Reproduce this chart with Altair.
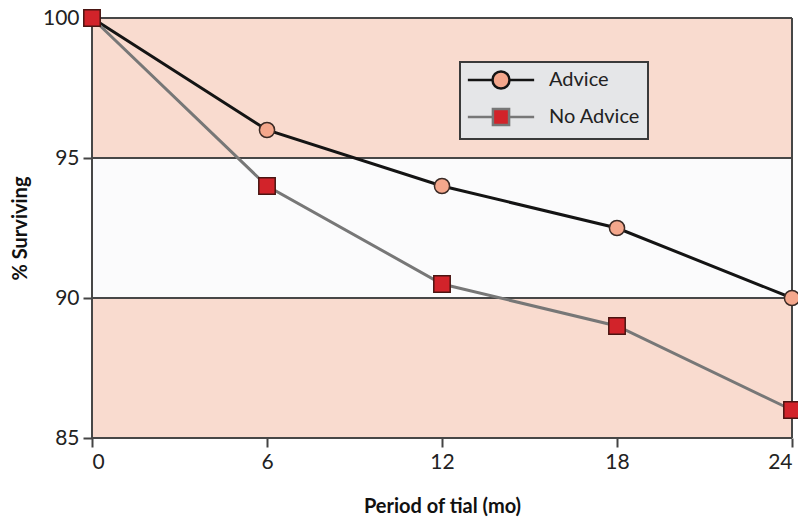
import altair as alt
import pandas as pd

months = [0, 6, 12, 18, 24]
advice = [100, 96, 94, 92.5, 90]
no_advice = [100, 94, 90.5, 89, 86]
series_names = ["Advice", "No Advice"]

band_lo = [85, 90, 95]
band_hi = [90, 95, 100]
band_kind = ["pink", "light", "pink"]

grid_y = [85, 90, 95, 100]
grid_x = [0, 24]

FONT = "Lato"

df = pd.DataFrame({
    "x": months * 2,
    "y": advice + no_advice,
    "series": [series_names[0]] * len(months) + [series_names[1]] * len(months),
})
bands = pd.DataFrame({"lo": band_lo, "hi": band_hi, "kind": band_kind})
gy = pd.DataFrame({"y": grid_y})
gx = pd.DataFrame({"x": grid_x})

xscale = alt.Scale(domain=[0, 24], nice=False, zero=False)
yscale = alt.Scale(domain=[85, 100], nice=False, zero=False)

xaxis = alt.Axis(values=months, title="Period of tial (mo)", domain=False, grid=False,
                 tickSize=9, tickWidth=2, tickColor="#444", labelFontSize=21, labelFont=FONT,
                 labelColor="#222", labelPadding=4, titleFont=FONT, titleFontSize=20,
                 titleFontWeight="bold", titleColor="#111", titlePadding=24)
yaxis = alt.Axis(values=grid_y, title="% Surviving", domain=False, grid=False,
                 tickSize=9, tickWidth=2, tickColor="#444", labelFontSize=21, labelFont=FONT,
                 labelColor="#222", labelPadding=4, titleFont=FONT, titleFontSize=20,
                 titleFontWeight="bold", titleColor="#111", titlePadding=12)

stroke_scale = alt.Scale(domain=series_names, range=["#141414", "#777777"])
fill_scale = alt.Scale(domain=series_names, range=["#f4a78c", "#d2232a"])

circle_path = "M-3.9,0L-1,0M1,0L3.9,0M1,0A1,1,0,1,1,-1,0A1,1,0,1,1,1,0Z"
square_path = "M-3.9,0L-1,0M1,0L3.9,0M-0.95,-0.95L0.95,-0.95L0.95,0.95L-0.95,0.95Z"

legend_def = alt.Legend(
    title=None, orient="none", legendX=368, legendY=44,
    fillColor="#e5e6e8", strokeColor="#3a3a3a", padding=8,
    labelFont=FONT, labelFontSize=20, labelColor="#222",
    symbolSize=289, symbolStrokeWidth=2.5, symbolOffset=23, labelOffset=38,
    rowPadding=9, symbolOpacity=1,
    labelExpr="datum.label + '\u00a0\u00a0\u00a0\u00a0'",
)

legend_layer = alt.Chart(df).mark_point(filled=True, size=289).encode(
    x=alt.X("x:Q", scale=xscale),
    y=alt.Y("y:Q", scale=yscale),
    shape=alt.Shape("series:N", scale=alt.Scale(domain=series_names, range=[circle_path, square_path]), legend=legend_def),
    fill=alt.Fill("series:N", scale=fill_scale, legend=legend_def),
    stroke=alt.Stroke("series:N", scale=stroke_scale, legend=legend_def),
    opacity=alt.value(0),
)

band_layer = alt.Chart(bands).mark_rect().encode(
    x=alt.value(0), x2=alt.value(700),
    y=alt.Y("lo:Q", scale=yscale, axis=yaxis), y2="hi:Q",
    color=alt.Color("kind:N", scale=alt.Scale(domain=["pink", "light"], range=["#f9dbcf", "#fbfbfc"]), legend=None),
)

rule_y = alt.Chart(gy).mark_rule(color="#474747", strokeWidth=2).encode(
    y=alt.Y("y:Q", scale=yscale),
)
rule_x = alt.Chart(gx).mark_rule(color="#474747", strokeWidth=2).encode(
    x=alt.X("x:Q", scale=xscale, axis=xaxis),
)

lines = alt.Chart(df).mark_line(strokeWidth=3).encode(
    x=alt.X("x:Q", scale=xscale),
    y=alt.Y("y:Q", scale=yscale),
    stroke=alt.Stroke("series:N", scale=stroke_scale, legend=None),
    detail="series:N",
)

circles = alt.Chart(df).transform_filter(alt.datum.series == "Advice").mark_point(
    shape="circle", filled=True, size=230, stroke="#3a2a25", strokeWidth=1.5, opacity=1
).encode(
    x=alt.X("x:Q", scale=xscale),
    y=alt.Y("y:Q", scale=yscale),
    fill=alt.Fill("series:N", scale=fill_scale, legend=None),
)

squares = alt.Chart(df).transform_filter(alt.datum.series == "No Advice").mark_point(
    shape="square", filled=True, size=270, stroke="#4a1512", strokeWidth=1.5, opacity=1
).encode(
    x=alt.X("x:Q", scale=xscale),
    y=alt.Y("y:Q", scale=yscale),
    fill=alt.Fill("series:N", scale=fill_scale, legend=None),
)

layered = alt.layer(legend_layer, band_layer, rule_y, rule_x, lines, circles, squares)
layered = layered.properties(
    width=700, height=420,
    padding={"left": 92, "top": 18, "right": 6, "bottom": 80},
    autosize=alt.AutoSizeParams(type="none"),
    background="white",
)
chart = layered.configure_view(stroke=None).configure_legend(strokeWidth=2)

chart.save("out.html", embed_options={"renderer": "svg", "actions": False})
